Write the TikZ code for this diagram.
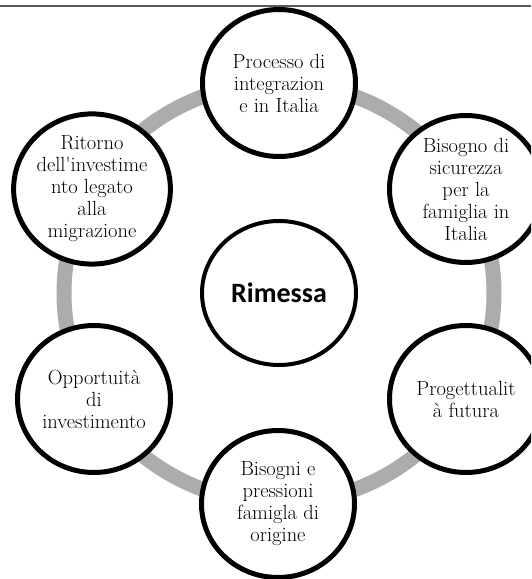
\documentclass[tikz,border=0pt]{standalone}
\usepackage{fontspec}
\newfontfamily\calibrifont{Carlito}
\usetikzlibrary{shapes.geometric}

\begin{document}
\begin{tikzpicture}[x=1pt,y=1pt,
  voce/.style={ellipse,draw=black,line width=5pt,fill=white,inner sep=0pt,
    minimum width=153pt,minimum height=147pt,align=center,
    font=\fontsize{20.5}{22}\selectfont},
  centro/.style={ellipse,draw=black,line width=4pt,fill=white,inner sep=0pt,
    minimum width=154pt,minimum height=144pt,
    font=\calibrifont\bfseries\fontsize{28}{32}\selectfont}]
\clip (0,0) rectangle (531,579);
\draw[gray!70!black,line width=2pt] (0,573)--(531,573);
\draw[gray!65,line width=15pt] (279,286) ellipse (215 and 210);
\node[centro] (rimessa) at (279,286) {Rimessa};
\node[voce] (processo) at (279,496) {Processo di\\integrazion\\e in Italia};
\node[voce] (sicurezza) at (466,390) {Bisogno di\\sicurezza\\per la\\famiglia in\\Italia};
\node[voce] (progetto) at (466,180) {Progettualit\\à futura};
\node[voce] (bisogni) at (278,75) {Bisogni e\\pressioni\\famigla di\\origine};
\node[voce] (opport) at (94,180) {Opportuità\\di\\investimento};
\node[voce] (ritorno) at (92,390) {Ritorno\\dell\textquotesingle investime\\nto legato\\alla\\migrazione};
\end{tikzpicture}
\end{document}
